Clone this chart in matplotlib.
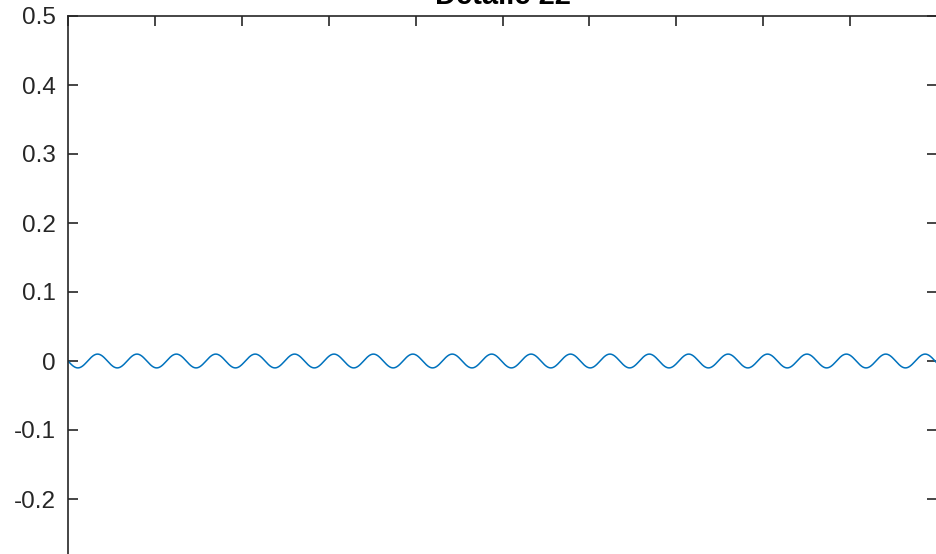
import numpy as np
import matplotlib.pyplot as plt

plt.rcParams['font.family'] = ['Liberation Sans', 'DejaVu Sans']
plt.rcParams['axes.unicode_minus'] = False

# Signal parameters
titulo = 'Detalle 22'
amplitud = 0.01      # peak value of the ripple
frecuencia = 2.205   # cycles per x unit
x_lim = (0, 10)
y_lim = (-0.5, 0.5)
y_ticks = [-0.2, -0.1, 0, 0.1, 0.2, 0.3, 0.4, 0.5]
y_labels = ['-0.2', '-0.1', '0', '0.1', '0.2', '0.3', '0.4', '0.5']
x_ticks = list(range(0, 11))

t = np.linspace(x_lim[0], x_lim[1], 4000)
y = -amplitud * np.sin(2 * np.pi * frecuencia * t)

fig = plt.figure(figsize=(9.36, 5.54), dpi=100)
ax = fig.add_axes([68 / 936, (554 - 706) / 554, 869 / 936, 690 / 554])

ax.plot(t, y, color='#0072BD', linewidth=1.1)

ax.set_xlim(x_lim)
ax.set_ylim(y_lim)
ax.set_xticks(x_ticks)
ax.set_xticklabels([])
ax.set_yticks(y_ticks)
ax.set_yticklabels(y_labels)

edge = '#262626'
for s in ax.spines.values():
    s.set_color(edge)
    s.set_linewidth(1.2)
ax.tick_params(direction='in', length=7, width=1.2, color=edge,
               top=True, right=True, labelsize=17.5, labelcolor=edge, pad=9)

ax.set_title(titulo, fontsize=21, fontweight='bold', color='black', pad=9)

fig.savefig('out.png', dpi=100)
